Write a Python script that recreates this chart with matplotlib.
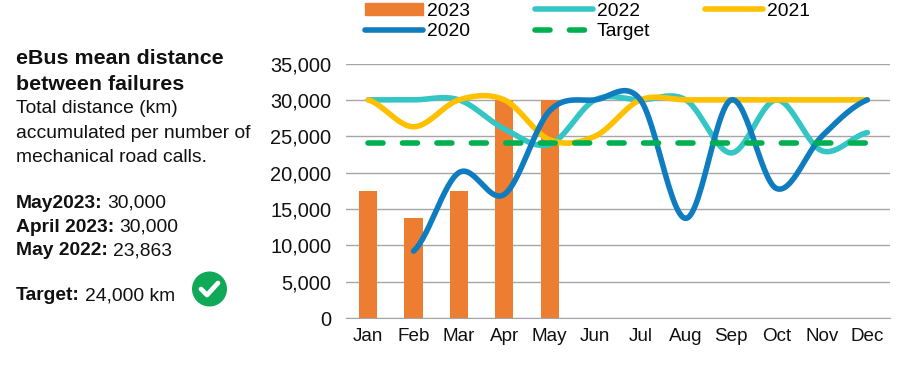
import matplotlib
matplotlib.use('Agg')
import matplotlib.pyplot as plt
from matplotlib.lines import Line2D
from matplotlib.patches import Circle, Patch
import numpy as np

plt.rcParams['font.family'] = ['Liberation Sans', 'DejaVu Sans']

months = ['Jan', 'Feb', 'Mar', 'Apr', 'May', 'Jun', 'Jul', 'Aug', 'Sep', 'Oct', 'Nov', 'Dec']
y_ticks = [0, 5000, 10000, 15000, 20000, 25000, 30000, 35000]

vals_2023 = [17500, 13800, 17500, 30000, 30000]
vals_2022 = [30000, 30000, 30000, 26000, 23863, 30000, 30000, 30000, 22700, 30000, 23000, 25500]
vals_2021 = [30000, 26300, 30000, 30000, 24500, 25000, 30000, 30000, 30000, 30000, 30000, 30000]
vals_2020 = [None, 9200, 20000, 17000, 28500, 30000, 30000, 13700, 30000, 17800, 25000, 30000]
target = [24000] * 12


def smooth(xs, ys, n=30):
    # same kind of curve as a smoothed Excel line
    out_x, out_y = [], []
    for i in range(len(xs) - 1):
        y0 = ys[max(i - 1, 0)]
        y1, y2 = ys[i], ys[i + 1]
        y3 = ys[min(i + 2, len(ys) - 1)]
        c1 = y1 + (y2 - y0) / 6
        c2 = y2 - (y3 - y1) / 6
        t = np.linspace(0, 1, n)
        out_x.extend(xs[i] + t * (xs[i + 1] - xs[i]))
        out_y.extend((1 - t)**3 * y1 + 3 * (1 - t)**2 * t * c1 + 3 * (1 - t) * t**2 * c2 + t**3 * y2)
    return out_x, out_y


def smooth_series(vals):
    pts = [(i, v) for i, v in enumerate(vals) if v is not None]
    xs, ys = zip(*pts)
    return smooth(xs, ys)


fig = plt.figure(figsize=(9.01, 3.67), dpi=100)
ax = fig.add_axes([345.5 / 901, 1 - 318 / 367, (890 - 345.5) / 901, (318 - 63.5) / 367])

lw = 4.0
green_dash = (2.7, 3.5)
ax.bar(range(len(vals_2023)), vals_2023, width=0.4, color='#ED7D31', zorder=2)
ax.plot(*smooth_series(vals_2022), color='#36C5C5', lw=lw, zorder=3, solid_capstyle='round')
ax.plot(*smooth_series(vals_2021), color='#FFC000', lw=lw, zorder=4, solid_capstyle='round')
ax.plot(*smooth_series(vals_2020), color='#0F7CBF', lw=lw, zorder=5, solid_capstyle='round')
ax.plot(range(12), target, color='#00B050', lw=lw, zorder=6, dash_capstyle='round', dashes=green_dash)

ax.set_xlim(-0.5, 11.5)
ax.set_ylim(0, 35000)
ax.set_xticks(range(12))
ax.set_xticklabels(months)
ax.set_yticks(y_ticks)
ax.set_yticklabels([f'{v:,}' for v in y_ticks])
ax.tick_params(length=0, labelsize=14.4, colors='#111111', pad=10)
ax.tick_params(axis='x', labelsize=13.6, pad=7)
ax.grid(axis='y', color='#A6A6A6', lw=1, zorder=0)
ax.set_axisbelow(True)
for s in ['top', 'left', 'right']:
    ax.spines[s].set_visible(False)
ax.spines['bottom'].set_color('#A6A6A6')

# one legend per column, the gaps between columns are not even in the original
legend_cols = [
    (365, [Patch(color='#ED7D31'), Line2D([], [], color='#0F7CBF', lw=lw, solid_capstyle='round')], ['2023', '2020']),
    (535, [Line2D([], [], color='#36C5C5', lw=lw, solid_capstyle='round'),
           Line2D([], [], color='#00B050', lw=lw, dashes=green_dash, dash_capstyle='round')], ['2022', 'Target']),
    (705, [Line2D([], [], color='#FFC000', lw=lw, solid_capstyle='round')], ['2021']),
]
for x_px, handles, labels in legend_cols:
    fig.legend(handles, labels, frameon=False, loc='upper left',
               bbox_to_anchor=(x_px / 901, 1 - 2.5 / 367), fontsize=13.9, borderaxespad=0, borderpad=0,
               handlelength=3.0, handleheight=0.6, handletextpad=0.2, labelspacing=0.2)

# left hand panel, in pixel coordinates
over = fig.add_axes([0, 0, 1, 1])
over.set_xlim(0, 901)
over.set_ylim(367, 0)
over.axis('off')
tc = '#111111'
fs = 13.9
over.text(16, 64, 'eBus mean distance', fontsize=15.4, fontweight='bold', color=tc, va='baseline')
over.text(16, 90, 'between failures', fontsize=15.4, fontweight='bold', color=tc, va='baseline')
over.text(16, 113, 'Total distance (km)', fontsize=fs, color=tc, va='baseline')
over.text(16, 138, 'accumulated per number of', fontsize=fs, color=tc, va='baseline')
over.text(16, 162, 'mechanical road calls.', fontsize=fs, color=tc, va='baseline')

rows = [('May2023:', '30,000', 208), ('April 2023:', '30,000', 232),
        ('May 2022:', '23,863', 255), ('Target:', '24,000 km', 300.5)]
fig.canvas.draw()
for head, rest, y in rows:
    t = over.text(16, y, head, fontsize=fs, fontweight='bold', color=tc, va='baseline')
    end = t.get_window_extent().x1
    over.text(end + 5, y, rest, fontsize=fs, color=tc, va='baseline')

over.add_patch(Circle((209.5, 289), 17.5, color='#0FA958', lw=0))
over.plot([201, 207, 218], [289, 295, 283], color='white', lw=3.4, solid_capstyle='round', solid_joinstyle='round')

fig.savefig('out.png', dpi=100)
